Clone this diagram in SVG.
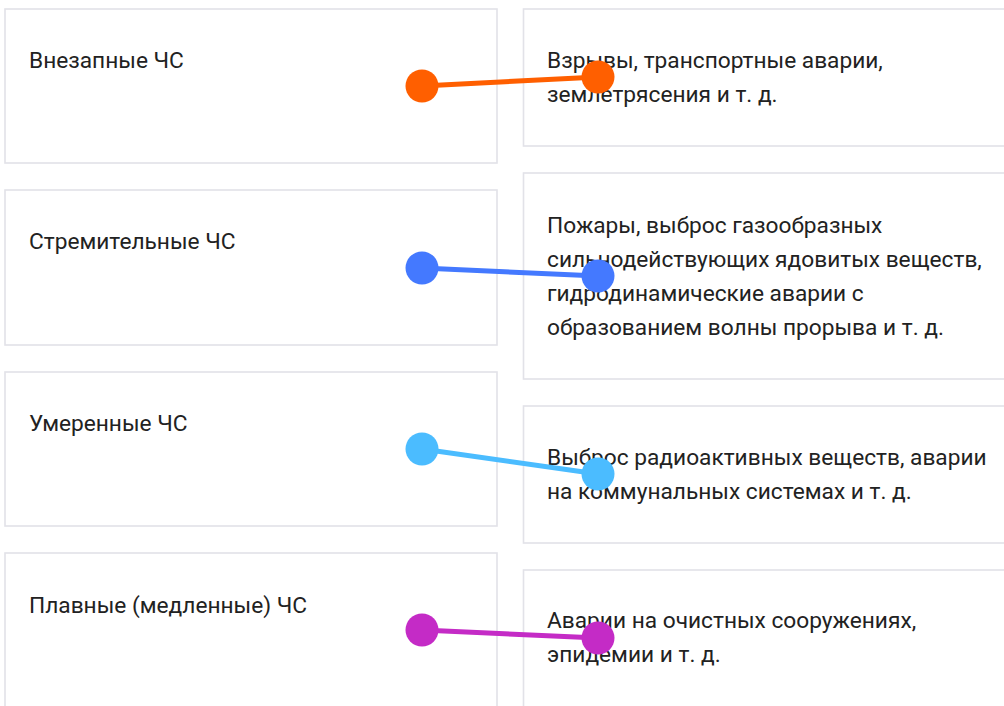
<svg xmlns="http://www.w3.org/2000/svg" width="1004" height="706" viewBox="0 0 1004 706">
<style>
.box{fill:#ffffff;stroke:#e2e2e8;stroke-width:1.6}
.t{font-family:Roboto,"Liberation Sans",sans-serif;font-size:22.7px;fill:#222222}
.ln{stroke-width:5;stroke-linecap:round;fill:none}
</style>
<rect width="1004" height="706" fill="#ffffff"/>
<g id="left1"><rect class="box" x="5" y="9" width="492" height="154"/><text class="t" x="29" y="68">Внезапные ЧС</text></g>
<g id="left2"><rect class="box" x="5" y="190" width="492" height="155"/><text class="t" x="29" y="249">Стремительные ЧС</text></g>
<g id="left3"><rect class="box" x="5" y="372" width="492" height="154"/><text class="t" x="29" y="431">Умеренные ЧС</text></g>
<g id="left4"><rect class="box" x="5" y="553" width="492" height="170"/><text class="t" x="29" y="613">Плавные (медленные) ЧС</text></g>
<g id="right1"><rect class="box" x="523.5" y="9" width="500" height="137"/><text class="t"><tspan x="547" y="68">Взрывы, транспортные аварии,</tspan><tspan x="547" y="102">землетрясения и т. д.</tspan></text></g>
<g id="right2"><rect class="box" x="523.5" y="173" width="500" height="206"/><text class="t"><tspan x="547" y="233">Пожары, выброс газообразных</tspan><tspan x="547" y="267">сильнодействующих ядовитых веществ,</tspan><tspan x="547" y="301">гидродинамические аварии с</tspan><tspan x="547" y="335">образованием волны прорыва и т. д.</tspan></text></g>
<g id="right3"><rect class="box" x="523.5" y="406" width="500" height="137"/><text class="t"><tspan x="547" y="465">Выброс радиоактивных веществ, аварии</tspan><tspan x="547" y="499">на коммунальных системах и т. д.</tspan></text></g>
<g id="right4"><rect class="box" x="523.5" y="570" width="500" height="160"/><text class="t"><tspan x="547" y="628">Аварии на очистных сооружениях,</tspan><tspan x="547" y="662">эпидемии и т. д.</tspan></text></g>
<g id="connectors">
<line class="ln" x1="422" y1="86" x2="598" y2="77" stroke="#ff5f00"/><circle cx="422" cy="86" r="16.5" fill="#ff5f00"/><circle cx="598" cy="77" r="16.5" fill="#ff5f00"/>
<line class="ln" x1="422" y1="268" x2="598" y2="276" stroke="#4479ff"/><circle cx="422" cy="268" r="16.5" fill="#4479ff"/><circle cx="598" cy="276" r="16.5" fill="#4479ff"/>
<line class="ln" x1="422" y1="449" x2="598" y2="474" stroke="#4bbcff"/><circle cx="422" cy="449" r="16.5" fill="#4bbcff"/><circle cx="598" cy="474" r="16.5" fill="#4bbcff"/>
<line class="ln" x1="422" y1="630" x2="598" y2="638" stroke="#c42bc6"/><circle cx="422" cy="630" r="16.5" fill="#c42bc6"/><circle cx="598" cy="638" r="16.5" fill="#c42bc6"/>
</g>
</svg>
